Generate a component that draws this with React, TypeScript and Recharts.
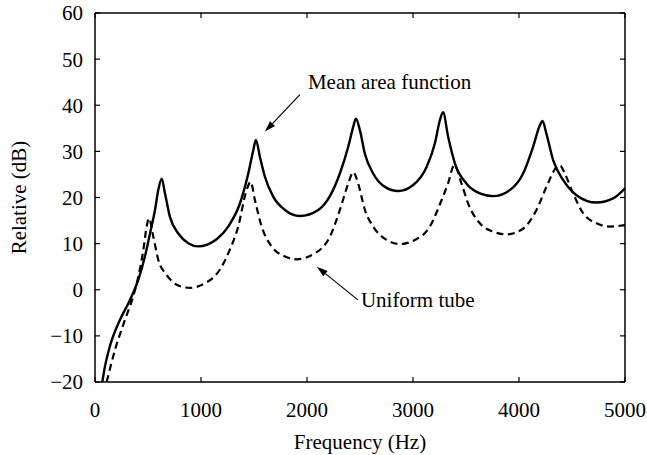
import { LineChart, Line, XAxis, YAxis, ReferenceLine } from "recharts";

const X_TICKS = [0, 1000, 2000, 3000, 4000, 5000];
const Y_TICKS = [-20, -10, 0, 10, 20, 30, 40, 50, 60];

// Mean area function (solid)
const MEAN_FREQ = [
  69, 95, 141, 236, 330, 409, 471, 519, 566, 597, 629, 660, 707, 786, 880, 974, 1060, 1150, 1257, 1367,
  1446, 1493, 1518, 1556, 1603, 1681, 1792, 1933, 2106, 2216, 2310, 2389, 2436, 2461, 2499, 2546, 2624,
  2735, 2860, 3002, 3128, 3206, 3253, 3283, 3332, 3395, 3505, 3631, 3756, 3913, 4039, 4133, 4196, 4222,
  4259, 4322, 4416, 4542, 4731, 4888, 5000,
];
const MEAN_DB = [
  -20, -16.5, -12.2, -6.5, -2.2, 2.2, 7.2, 12.2, 17.3, 21.6, 24.1, 20.9, 15.8, 12.2, 10.1, 9.4, 9.8, 11.0,
  13.7, 18.7, 25.2, 30.2, 32.5, 28.8, 24.5, 20.2, 17.3, 16.0, 17.3, 20.3, 25.2, 31.0, 35.3, 37.1, 34.6,
  29.5, 25.2, 22.3, 21.4, 22.7, 26.6, 31.7, 36.7, 38.5, 33.1, 27.4, 23.0, 20.9, 20.3, 21.6, 25.2, 31.0,
  35.6, 36.6, 33.8, 28.1, 23.8, 20.5, 18.9, 19.8, 22.0,
];

// Uniform tube (dashed)
const UNIFORM_FREQ = [
  110, 189, 283, 361, 409, 456, 487, 509, 550, 597, 676, 770, 896, 1037, 1132, 1195, 1257, 1351, 1430,
  1468, 1509, 1572, 1666, 1792, 1902, 2074, 2216, 2310, 2389, 2436, 2483, 2546, 2624, 2751, 2876, 3018,
  3159, 3269, 3330, 3390, 3458, 3520, 3631, 3756, 3882, 4024, 4165, 4259, 4354, 4385, 4432, 4510, 4605,
  4731, 4856, 5000,
];
const UNIFORM_DB = [
  -20, -13, -6.5, -1.4, 2.9, 8.6, 13.7, 15.5, 11.5, 6.5, 3.2, 1.1, 0.4, 1.4, 3.0, 5.0, 7.9, 13.7, 21.6,
  23.4, 19.4, 13.7, 9.4, 7.2, 6.6, 7.9, 11.5, 17.3, 23.0, 25.5, 23.0, 17.3, 13.7, 10.8, 9.9, 10.8, 13.7,
  19.4, 23.0, 27.0, 23.0, 18.7, 14.4, 12.6, 12.0, 13.0, 17.3, 22.3, 26.6, 27.0, 25.2, 20.9, 16.6, 14.4,
  13.7, 14.0,
];

const meanData = MEAN_FREQ.map((f, i) => ({ f, db: MEAN_DB[i] }));
const uniformData = UNIFORM_FREQ.map((f, i) => ({ f, db: UNIFORM_DB[i] }));

const FONT = "Liberation Serif";
const tickStyle = { fontSize: 21, fill: "#000", fontFamily: FONT };

function arrow(label: string, dx: number, dy: number) {
  return (p: any) => {
    const { x1, y1, x2, y2 } = p;
    const ang = Math.atan2(y2 - y1, x2 - x1);
    const len = 11;
    const w = 3.5;
    const bx = x2 - len * Math.cos(ang);
    const by = y2 - len * Math.sin(ang);
    const px = -Math.sin(ang) * w;
    const py = Math.cos(ang) * w;
    return (
      <g>
        <line x1={x1} y1={y1} x2={bx} y2={by} stroke="#000" strokeWidth={1.2} />
        <polygon points={`${x2},${y2} ${bx + px},${by + py} ${bx - px},${by - py}`} fill="#000" />
        <text x={x1 + dx} y={y1 + dy} fontSize={21} fontFamily={FONT} fill="#000">
          {label}
        </text>
      </g>
    );
  };
}

export default function App() {
  return (
    <div style={{ position: "absolute", left: 0, top: 0, background: "#fff" }}>
      <LineChart width={647} height={455} margin={{ top: 12, right: 21, left: 0, bottom: 0 }}>
        <XAxis
          dataKey="f"
          type="number"
          domain={[0, 5000]}
          ticks={X_TICKS}
          allowDataOverflow
          height={73}
          tickSize={-5}
          tickMargin={25}
          tick={tickStyle}
          axisLine={{ stroke: "#000", strokeWidth: 1.5 }}
          tickLine={{ stroke: "#000", strokeWidth: 1.2 }}
          label={{
            content: (props: any) => {
              const vb = props.viewBox;
              return (
                <text x={vb.x + vb.width / 2} y={vb.y + 67} textAnchor="middle" fontSize={21} fontFamily={FONT} fill="#000">
                  Frequency (Hz)
                </text>
              );
            },
          }}
        />
        <XAxis
          xAxisId="top"
          orientation="top"
          type="number"
          dataKey="f"
          domain={[0, 5000]}
          ticks={X_TICKS}
          allowDataOverflow
          height={1}
          tickSize={-5}
          tickMargin={0}
          tick={{ fontSize: 1, fill: "none" }}
          tickFormatter={() => ""}
          axisLine={{ stroke: "#000", strokeWidth: 1.5 }}
          tickLine={{ stroke: "#000", strokeWidth: 1.2 }}
        />
        <YAxis
          type="number"
          domain={[-20, 60]}
          ticks={Y_TICKS}
          allowDataOverflow
          width={95}
          tickSize={-5}
          tickMargin={17}
          tick={tickStyle}
          tickFormatter={(v: number) => (v < 0 ? `\u2212${Math.abs(v)}` : `${v}`)}
          axisLine={{ stroke: "#000", strokeWidth: 1.5 }}
          tickLine={{ stroke: "#000", strokeWidth: 1.2 }}
          label={{
            content: (props: any) => {
              const vb = props.viewBox;
              const cx = vb.x + 19;
              const cy = vb.y + vb.height / 2;
              return (
                <text
                  x={cx}
                  y={cy}
                  textAnchor="middle"
                  dominantBaseline="central"
                  transform={`rotate(-90 ${cx} ${cy})`}
                  fontSize={21}
                  fontFamily={FONT}
                  fill="#000"
                >
                  Relative (dB)
                </text>
              );
            },
          }}
        />
        <YAxis
          yAxisId="right"
          orientation="right"
          type="number"
          dataKey="db"
          domain={[-20, 60]}
          ticks={Y_TICKS}
          allowDataOverflow
          width={1}
          tickSize={-5}
          tickMargin={0}
          tick={{ fontSize: 1, fill: "none" }}
          tickFormatter={() => ""}
          axisLine={{ stroke: "#000", strokeWidth: 1.5 }}
          tickLine={{ stroke: "#000", strokeWidth: 1.2 }}
        />
        <Line
          data={uniformData}
          dataKey="db"
          type="monotone"
          stroke="#000"
          strokeWidth={2.2}
          strokeDasharray="7 4.5"
          dot={false}
          isAnimationActive={false}
        />
        <Line
          data={meanData}
          dataKey="db"
          type="monotone"
          stroke="#000"
          strokeWidth={2.4}
          dot={false}
          isAnimationActive={false}
        />
        <ReferenceLine
          segment={[
            { x: 1933, y: 42.3 },
            { x: 1603, y: 34.3 },
          ]}
          shape={arrow("Mean area function", 8, -6)}
        />
        <ReferenceLine
          segment={[
            { x: 2480, y: -2.2 },
            { x: 2093, y: 5.0 },
          ]}
          shape={arrow("Uniform tube", 3, 7)}
        />
      </LineChart>
    </div>
  );
}
